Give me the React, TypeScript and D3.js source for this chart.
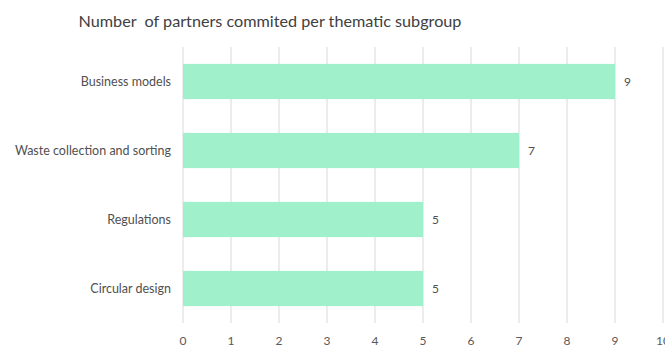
import React from "react";
import * as d3 from "d3";

const categories = ["Business models", "Waste collection and sorting", "Regulations", "Circular design"];
const values = [9, 7, 5, 5];
const ticks = [0, 1, 2, 3, 4, 5, 6, 7, 8, 9, 10];
const title = "Number  of partners commited per thematic subgroup";

export default function App() {
  const W = 665, H = 352;
  const x = d3.scaleLinear().domain([0, 10]).range([183, 663]);
  const y = d3.scaleBand().domain(categories).range([47, 323]).paddingInner(0.49).paddingOuter(0.245);
  const font = "Lato, 'Open Sans', sans-serif";
  return (
    <svg width={W} height={H} style={{ position: "absolute", left: 0, top: 0 }} fontFamily={font}>
      <rect width={W} height={H} fill="#fff" />
      <text x={270} y={27} textAnchor="middle" fontSize={16.2} fill="#404040" style={{ whiteSpace: "pre" }}>{title}</text>
      {ticks.map((t) => (
        <g key={t}>
          <line x1={x(t)} x2={x(t)} y1={47} y2={323} stroke="#d9d9d9" strokeWidth={1} />
          <text x={x(t)} y={345} textAnchor="middle" fontSize={12} fill="#595959">{t}</text>
        </g>
      ))}
      {categories.map((c, i) => (
        <g key={c}>
          <rect x={x(0)} y={y(c)} width={x(values[i]) - x(0)} height={y.bandwidth()} fill="#a0f0cc" />
          <text x={171} y={(y(c) as number) + y.bandwidth() / 2 + 4.5} textAnchor="end" fontSize={12.5} fill="#505050">{c}</text>
          <text x={x(values[i]) + 9} y={(y(c) as number) + y.bandwidth() / 2 + 4.5} fontSize={12} fill="#505050">{values[i]}</text>
        </g>
      ))}
    </svg>
  );
}
